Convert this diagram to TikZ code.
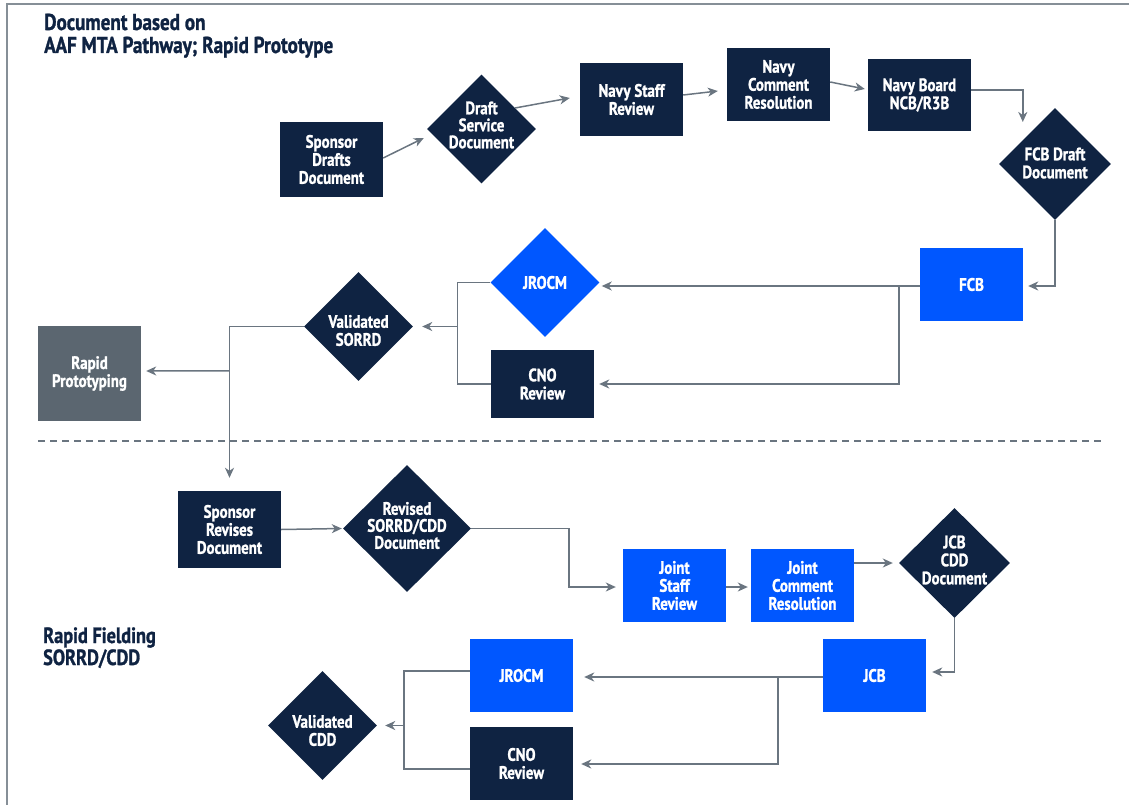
\documentclass[tikz,border=0pt]{standalone}
\usepackage{fontspec}
\setmainfont{PT Sans}[FakeStretch=0.83, BoldFeatures={FakeBold=1.2}]
\usetikzlibrary{shapes.geometric,arrows.meta,calc}
\definecolor{navy}{RGB}{15,35,66}
\definecolor{vblue}{RGB}{0,87,255}
\definecolor{gbox}{RGB}{91,102,112}
\definecolor{lgray}{RGB}{106,117,128}
\definecolor{bgray}{RGB}{134,143,151}
\begin{document}
\begin{tikzpicture}[x=1pt,y=-1pt,
  nfont/.style={font=\fontsize{18}{18}\selectfont\bfseries},
  box/.style={rectangle, fill=navy, text=white, align=center, minimum width=103pt, minimum height=73pt, inner sep=0pt, nfont},
  bbox/.style={box, fill=vblue},
  dia/.style={diamond, fill=navy, inner sep=0pt, minimum width=109pt, minimum height=109pt},
  dlab/.style 2 args={label={[text=white, align=center, nfont, yshift=#1]center:#2}},
  ttl/.style={anchor=base west, inner sep=0pt, text=navy, font=\fontsize{23}{23}\selectfont\bfseries},
  ttl2/.style={anchor=base west, inner sep=0pt, text=navy, font=\fontsize{22}{22}\selectfont\bfseries},
  ln/.style={draw=lgray, line width=1.5pt},
  arr/.style={ln, -{Stealth[length=10pt, width=9pt, inset=3pt]}},
]
\useasboundingbox (0,0) rectangle (1129,805);
% frame
\draw[bgray, line width=2pt] (7,805) -- (7,4) -- (1129,4);
\draw[lgray, line width=1.5pt, dash pattern=on 7pt off 5pt] (38,441) -- (1103,441);

% titles
\node[ttl] (t1) at (44,30) {Document based on};
\node[ttl] (t2) at (44,53) {AAF MTA Pathway; Rapid Prototype};
\node[ttl2] (t3) at (43,643) {Rapid Fielding};
\node[ttl2] (t4) at (43,665) {SORRD/CDD};

% top section
\node[box, minimum height=75pt] (sd) at (331.5,159.5) {Sponsor\\Drafts\\Document};
\node[dia, dlab={4pt}{Draft\\[-1pt]Service\\[-1pt]Document}] (dsd) at (481.5,129) {};
\node[box] (nsr) at (631.5,99.5) {Navy Staff\\Review};
\node[box] (ncr) at (778.5,84.5) {Navy\\Comment\\Resolution};
\node[box, minimum height=72pt] (nb) at (919.5,95) {Navy Board\\NCB/R3B};
\node[dia, minimum width=112pt, minimum height=112pt, dlab={1pt}{FCB Draft\\Document}] (fcbd) at (1055,164) {};
\node[bbox] (fcb) at (971.5,284.5) {FCB};
\node[dia, fill=vblue, dlab={0pt}{JROCM}] (j1) at (545,282.5) {};
\node[box, minimum height=68pt] (c1) at (542.5,384) {CNO\\Review};
\node[dia, dlab={-4pt}{Validated\\SORRD}] (vs) at (358.5,326.5) {};
\node[box, fill=gbox, minimum height=95pt] (rp) at (89.5,373.5) {Rapid\\Prototyping};

% bottom section
\node[box, minimum height=77pt] (sr) at (229.5,529.5) {Sponsor\\Revises\\Document};
\node[dia, minimum width=128pt, minimum height=127pt, dlab={3pt}{Revised\\[-1pt]SORRD/CDD\\[-1pt]Document}] (rev) at (407,528.5) {};
\node[bbox] (jsr) at (674.5,585.5) {Joint\\Staff\\Review};
\node[bbox] (jcr) at (802.5,585.5) {Joint\\Comment\\Resolution};
\node[dia, minimum width=111pt, minimum height=110pt, dlab={3pt}{JCB\\CDD\\Document}] (jcbd) at (954.5,563) {};
\node[bbox] (jcb) at (874.5,675.5) {JCB};
\node[bbox] (j2) at (521.5,675.5) {JROCM};
\node[box] (c2) at (521.5,763.5) {CNO\\Review};
\node[dia, dlab={-5pt}{Validated\\CDD}] (vc) at (322.5,725.5) {};

% connectors top
\draw[arr] ($(sd.east)+(0,-1.5)$) -- ($(dsd.west)+(-3,9)$);
\draw[arr] ($(dsd.center)+(33.5,-21)$) -- ($(nsr.west)+(-10,-1.5)$);
\draw[arr] ($(nsr.east)+(0,-4.5)$) -- ($(ncr.west)+(-9,6.5)$);
\draw[arr] ($(ncr.east)+(0,-2.5)$) -- ($(nb.west)+(-3,-6)$);
\coordinate (fcbdin) at ($(fcbd.west)+(24,-42)$);
\draw[arr] ($(nb.east)+(0,-5)$) -| (fcbdin);
\draw[arr] (fcbd.south) |- ($(fcb.east)+(5,1.5)$);
\draw[arr] ($(fcb.west)+(0,1.5)$) -- ($(j1.east)+(2,3.5)$);
\coordinate (fcbsplit) at ($(fcb.west)+(-21,1.5)$);
\draw[arr] (fcbsplit) |- ($(c1.east)+(5,0)$);
\draw[ln] (j1.west) -- ++(-33,0) |- (c1.west);
\coordinate (vsin) at ($(vs.east)+(44,0)$);
\draw[arr] (vsin) -- ($(vs.east)+(9,0)$);
\coordinate (srin) at ($(sr.north)+(0,-13)$);
\draw[arr] (vs.west) -| (srin);
\coordinate (rpsplit) at ($(sr.north)+(0,-120)$);
\draw[arr] (rpsplit) -- ($(rp.east)+(5,-2.5)$);

% connectors bottom
\draw[arr] (sr.east) -- ($(rev.west)+(-1,0)$);
\draw[arr] (rev.east) -- ++(98,0) |- ($(jsr.west)+(-7,1.5)$);
\draw[arr] ($(jsr.east)+(0,1.5)$) -- ($(jcr.west)+(-3,1.5)$);
\draw[arr] ($(jcr.east)+(0,-22.5)$) -- ($(jcbd.west)+(-6,0)$);
\draw[arr] (jcbd.south) |- ($(jcb.east)+(6,-3.5)$);
\draw[arr] ($(jcb.west)+(0,1.5)$) -- ($(j2.east)+(11,1.5)$);
\coordinate (jcbsplit) at ($(jcb.west)+(-45,1.5)$);
\draw[arr] (jcbsplit) |- ($(c2.east)+(8,0.5)$);
\draw[ln] ($(j2.west)+(0,-4.5)$) -- ++(-66,0) |- ($(c2.west)+(0,5.5)$);
\coordinate (vcin) at ($(vc.east)+(27,0)$);
\draw[arr] (vcin) -- ($(vc.east)+(8,0)$);
\end{tikzpicture}
\end{document}
